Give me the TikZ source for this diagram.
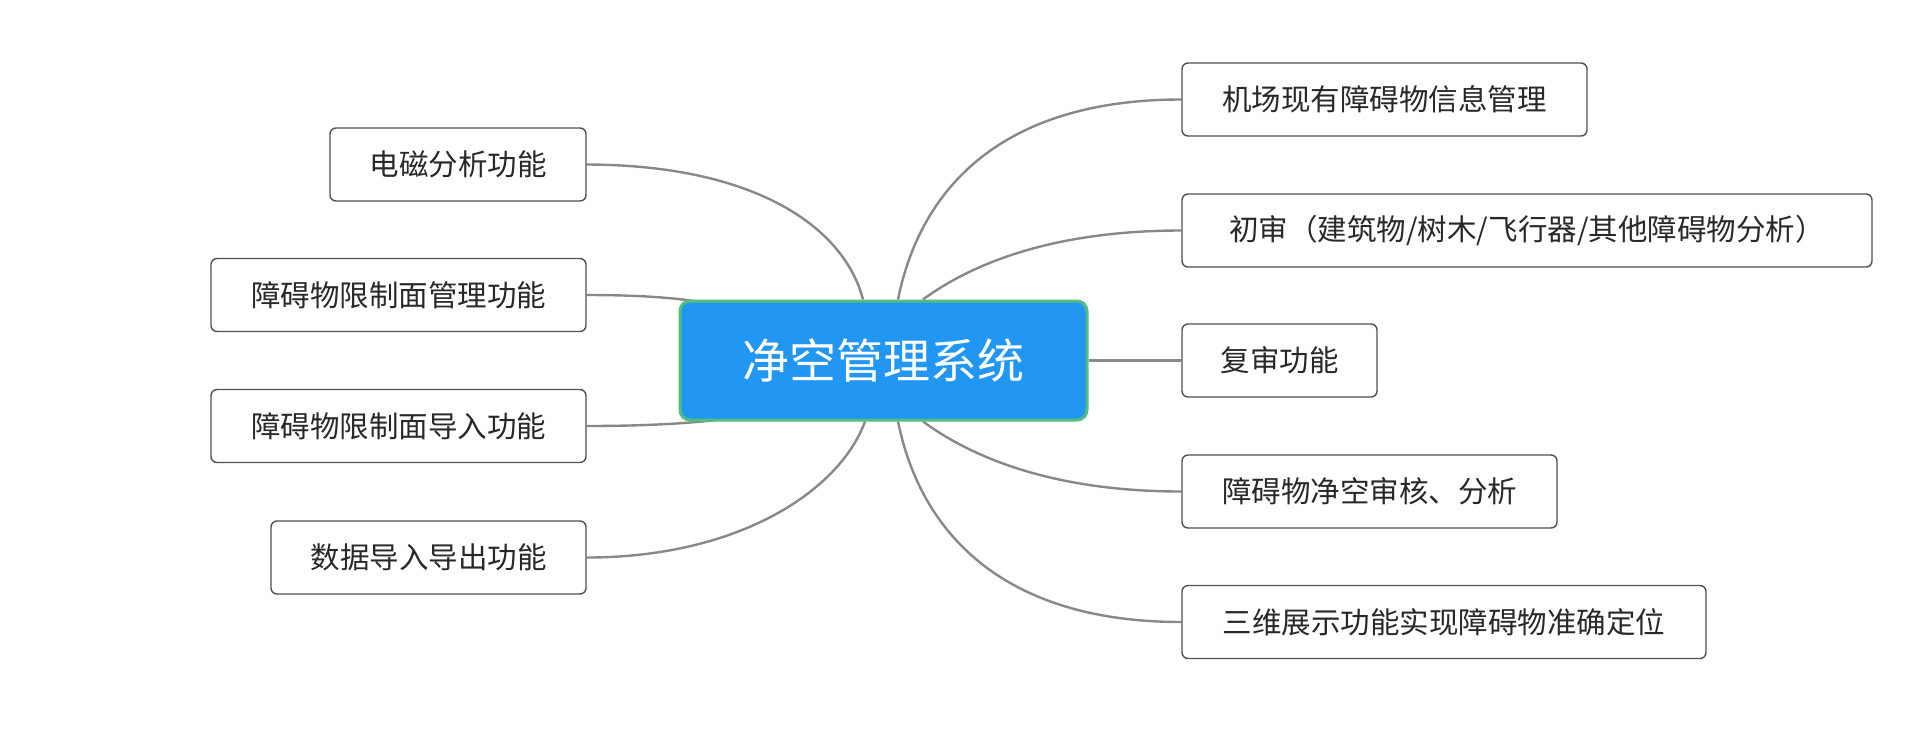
\documentclass[tikz,border=0pt]{standalone}
\usepackage{fontspec}
\newfontfamily\cjk{Noto Sans CJK SC}
\usetikzlibrary{calc,backgrounds}
\definecolor{cfill}{RGB}{33,150,243}
\definecolor{cborder}{RGB}{82,190,128}
\definecolor{bborder}{RGB}{80,80,80}
\definecolor{ctext}{RGB}{40,40,40}
\definecolor{lcol}{RGB}{136,136,136}
\begin{document}
\begin{tikzpicture}[x=1pt,y=-1pt,
  topic/.style={draw=bborder, line width=1.4pt, rounded corners=6pt, fill=white,
    text=ctext, inner sep=0pt, minimum height=73pt,
    font=\cjk\fontsize{29.5}{36}\selectfont},
  central/.style={draw=cborder, line width=3pt, rounded corners=10pt, fill=cfill,
    text=white, inner sep=0pt, minimum width=407pt, minimum height=119pt,
    font=\cjk\fontsize{47}{56}\selectfont},
  link/.style={draw=lcol, line width=2.4pt}]
\useasboundingbox (0,0) rectangle (1920,748);

\node[central] (c) at (883.5,360.5) {净空管理系统};

\node[topic, minimum width=256pt] (l1) at (458,164.5) {电磁分析功能};
\node[topic, minimum width=375pt] (l2) at (398.5,295) {障碍物限制面管理功能};
\node[topic, minimum width=375pt] (l3) at (398.5,426) {障碍物限制面导入功能};
\node[topic, minimum width=315pt] (l4) at (428.5,557.5) {数据导入导出功能};

\node[topic, minimum width=405pt] (r1) at (1384.5,99.5) {机场现有障碍物信息管理};
\node[topic, minimum width=690pt] (r2) at (1527,230.5) {初审（建筑物/树木/飞行器/其他障碍物分析）};
\node[topic, minimum width=195pt] (r3) at (1279.5,360.5) {复审功能};
\node[topic, minimum width=375pt] (r4) at (1369.5,491.5) {障碍物净空审核、分析};
\node[topic, minimum width=524pt] (r5) at (1444,622) {三维展示功能实现障碍物准确定位};

\begin{scope}[on background layer]
\draw[link] ($(c.north)+(-20.5,0)$) .. controls (845,230) and (760,165) .. (l1.east);
\draw[link] (l2.east) .. controls (650,295) and (690,299) .. ($(c.north west)+(40,6)$);
\draw[link] (l3.east) .. controls (660,426) and (710,422) .. ($(c.south west)+(70,-6)$);
\draw[link] ($(c.south)+(-18.5,0)$) .. controls (840,490) and (740,557.5) .. (l4.east);

\draw[link] ($(c.north)+(14.5,0)$) .. controls (920,190) and (1000,99.5) .. (r1.west);
\draw[link] ($(c.north)+(39.5,0)$) .. controls (970,265) and (1050,230.5) .. (r2.west);
\draw[link] (c.east) -- (r3.west);
\draw[link] ($(c.south)+(39.5,0)$) .. controls (970,456) and (1050,491.5) .. (r4.west);
\draw[link] ($(c.south)+(14.5,0)$) .. controls (920,530) and (1000,622) .. (r5.west);
\end{scope}
\end{tikzpicture}
\end{document}
